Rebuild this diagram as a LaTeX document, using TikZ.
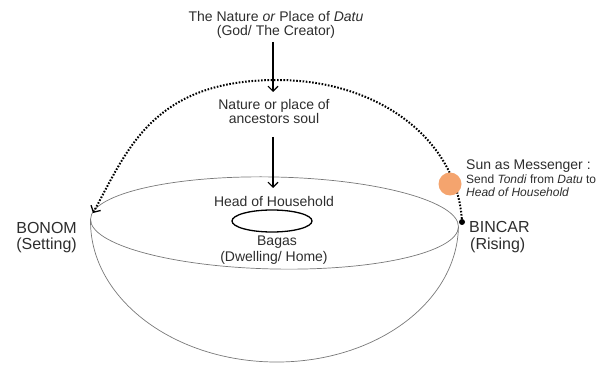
\documentclass[tikz,border=0pt]{standalone}
\usepackage{fontspec}
\setmainfont{Liberation Sans}
\usetikzlibrary{arrows.meta}
\definecolor{txt}{RGB}{45,45,45}
\definecolor{rimgray}{RGB}{120,120,120}
\definecolor{sunorange}{RGB}{244,164,110}
\begin{document}
\begin{tikzpicture}[x=1pt,y=1pt,
  lbl/.style={inner sep=0pt,text=txt,font=\fontsize{14}{16}\selectfont},
  big/.style={inner sep=0pt,text=txt,font=\fontsize{16}{18}\selectfont},
  small/.style={inner sep=0pt,text=txt,font=\fontsize{12}{14}\selectfont},
  flow/.style={draw=black,line width=1.1pt,-{Straight Barb[length=5pt,width=10pt,line width=1.1pt]}},
  dotline/.style={draw=black,line width=2pt,dash pattern=on 1.6pt off 1.6pt,
     -{Straight Barb[length=5pt,width=11pt,line width=1.3pt]}},
  rim/.style={draw=rimgray,line width=0.7pt}]
\useasboundingbox (0,0) rectangle (600,367);
% bowl and rim
\begin{scope}[rotate around={-1.2:(274.5,144)}]
  \draw[rim] (274.5,144) ellipse[x radius=184,y radius=46];
  \draw[rim] (90.5,144) arc[start angle=180,end angle=360,x radius=184,y radius=139];
\end{scope}
% small ellipse (Bagas)
\draw[black,line width=1.3pt] (272,146) ellipse[x radius=40,y radius=11];
% texts
\node[lbl,anchor=base] (datu) at (276,345) {The Nature \textit{or} Place of \textit{Datu}};
\node[lbl,anchor=base] (god) at (276,331) {(God/ The Creator)};
\node[lbl,anchor=base] (anc1) at (274,257) {Nature or place of};
\node[lbl,anchor=base] (anc2) at (274,243) {ancestors soul};
\node[lbl,anchor=base] (head) at (274,160) {Head of Household};
\node[lbl,anchor=base] (bagas) at (277,121) {Bagas};
\node[lbl,anchor=base] (dwell) at (274,105) {(Dwelling/ Home)};
\node[big,anchor=base east] (bonom) at (77,133) {BONOM};
\node[big,anchor=base east] (setting) at (77,117) {(Setting)};
\node[big,anchor=base west] (bincar) at (469,134) {BINCAR};
\node[big,anchor=base west] (rising) at (470,117) {(Rising)};
\node[lbl,anchor=base west] (sunlbl) at (466,197) {Sun as Messenger :};
\node[small,anchor=base west] (send) at (466,183) {Send \textit{Tondi} from \textit{Datu} to};
\node[small,anchor=base west] (hoh) at (466,170) {\textit{Head of Household}};
% arrows
\coordinate (a1s) at (273,325);
\coordinate (a1e) at (273,275);
\coordinate (a2s) at (273,230);
\coordinate (a2e) at (273,179);
\draw[flow] (a1s) -- (a1e);
\draw[flow] (a2s) -- (a2e);
% dotted path of the sun
\node[circle,fill=black,inner sep=0pt,minimum size=6pt] (rise) at (462,145) {};
\coordinate (zenith) at (277,287);
\coordinate (settip) at (93,154);
\draw[dotline] (rise.center) .. controls (458,227) and (379,287) .. (zenith)
   .. controls (152,287) and (127,216) .. (settip);
\node[circle,fill=sunorange,inner sep=0pt,minimum size=23pt] (sun) at (450,183) {};
\end{tikzpicture}
\end{document}
